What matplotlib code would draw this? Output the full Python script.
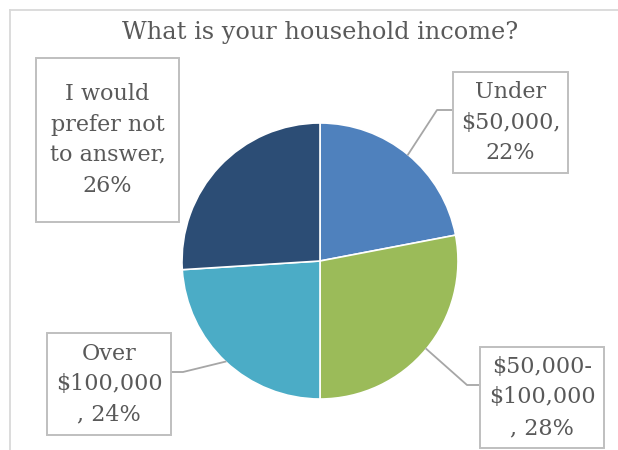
import matplotlib
matplotlib.use("Agg")
import matplotlib.pyplot as plt
from matplotlib.patches import Rectangle
import numpy as np

# ---- data ----
categories = ["Under $50,000", "$50,000-$100,000", "Over $100,000", "I would prefer not to answer"]
values = [22, 28, 24, 26]
label_lines = [["Under", "$50,000"], ["$50,000-", "$100,000"], ["Over", "$100,000"],
               ["I would", "prefer not", "to answer"]]
comma_wraps = [False, True, True, False]
colors = ["#4F81BD", "#9BBB59", "#4BACC6", "#2C4D75"]
title = "What is your household income?"

W, H = 618, 450
fig = plt.figure(figsize=(W / 100, H / 100), dpi=100)
ax = fig.add_axes([0, 0, 1, 1])

def Y(y):  # pixel-from-top to data y
    return H - y

cx, cy, R = 320, Y(261), 138
ax.pie(values, colors=colors, startangle=90, counterclock=False, center=(cx, cy), radius=R,
       wedgeprops=dict(edgecolor="white", linewidth=1.2))
ax.set_xlim(0, W)
ax.set_ylim(0, H)
ax.set_aspect("equal")
ax.axis("off")

# chart border (cropped)
ax.plot([10, W + 5], [Y(10), Y(10)], color="#D9D9D9", lw=1.3, clip_on=False)
ax.plot([10, 10], [Y(10), -5], color="#D9D9D9", lw=1.3, clip_on=False)

txt_color = "#595959"
ax.text(320, Y(33), title, ha="center", va="center", fontsize=17.3, color=txt_color,
        family="DejaVu Serif")

# label boxes (x0, y0, x1, y1) in pixels from top
boxes = [(453, 72, 568, 173), (480, 347, 604, 448), (47, 333, 171, 435), (36, 58, 179, 222)]
# leader paths: (elbow x, elbow y, box attach x, box attach y)
leaders = [(437, 110, 453, 110), (467, 385, 480, 385), (183, 372, 171, 372), None]

cum = np.cumsum([0] + values[:-1])
total = sum(values)
for i, (cat, v) in enumerate(zip(categories, values)):
    x0, y0, x1, y1 = boxes[i]
    ax.add_patch(Rectangle((x0, Y(y1)), x1 - x0, y1 - y0, facecolor="white",
                           edgecolor="#BFBFBF", lw=1.4, zorder=3))
    sep = "\n, " if comma_wraps[i] else ",\n"
    lab = "\n".join(label_lines[i]) + sep + f"{v}%"
    ax.text((x0 + x1) / 2, Y((y0 + y1) / 2), lab, ha="center", va="center", fontsize=16,
            color=txt_color, family="DejaVu Serif", linespacing=1.5, zorder=4)
    if leaders[i] is not None:
        mid = (cum[i] + v / 2) / total * 2 * np.pi
        px, py = cx + R * np.sin(mid), cy + R * np.cos(mid)
        ex, ey, bx, by = leaders[i]
        ax.plot([px, ex, bx], [py, Y(ey), Y(by)], color="#A6A6A6", lw=1.3, zorder=2)

fig.savefig("out.png", dpi=100)
